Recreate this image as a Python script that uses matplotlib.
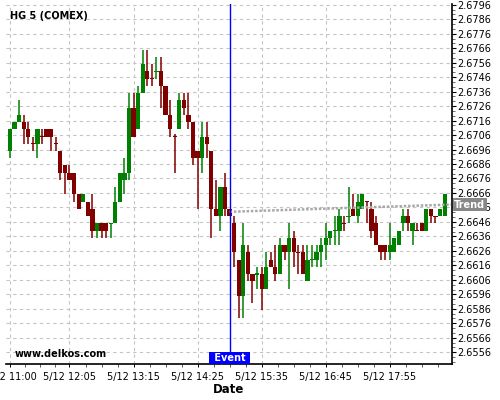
import numpy as np
import pandas as pd
import matplotlib
matplotlib.use("Agg")
import matplotlib.pyplot as plt
import matplotlib.dates as mdates
import matplotlib.transforms as mtransforms
from matplotlib.ticker import FixedLocator, AutoMinorLocator, FuncFormatter

# ---------------- data ----------------
session_date = "2025-05-12"
start_time = "11:00"
bar_minutes = 5

opens = [2.6695, 2.6710, 2.6715, 2.6715, 2.6710, 2.6700, 2.6700, 2.6705, 2.6710, 2.6710,
         2.6700, 2.6695, 2.6685, 2.6680, 2.6680, 2.6665, 2.6660, 2.6660, 2.6655, 2.6640,
         2.6645, 2.6645, 2.6645, 2.6645, 2.6660, 2.6675, 2.6680, 2.6725, 2.6710, 2.6735,
         2.6750, 2.6745, 2.6750, 2.6750, 2.6740, 2.6720, 2.6705, 2.6710, 2.6730, 2.6720,
         2.6715, 2.6695, 2.6690, 2.6705, 2.6695, 2.6655, 2.6650, 2.6670, 2.6655, 2.6645,
         2.6620, 2.6595, 2.6625, 2.6610, 2.6610, 2.6610, 2.6600, 2.6620, 2.6615, 2.6610,
         2.6630, 2.6625, 2.6635, 2.6625, 2.6625, 2.6605, 2.6620, 2.6620, 2.6625, 2.6630,
         2.6635, 2.6640, 2.6640, 2.6645, 2.6650, 2.6655, 2.6650, 2.6655, 2.6660, 2.6655,
         2.6645, 2.6630, 2.6630, 2.6625, 2.6625, 2.6630, 2.6645, 2.6650, 2.6640, 2.6640,
         2.6645, 2.6640, 2.6655, 2.6650, 2.6650, 2.6650]
highs = [2.6710, 2.6715, 2.6730, 2.6720, 2.6715, 2.6705, 2.6710, 2.6710, 2.6710, 2.6710,
         2.6705, 2.6695, 2.6685, 2.6685, 2.6680, 2.6665, 2.6665, 2.6660, 2.6665, 2.6645,
         2.6645, 2.6645, 2.6645, 2.6670, 2.6680, 2.6690, 2.6735, 2.6735, 2.6740, 2.6765,
         2.6765, 2.6755, 2.6760, 2.6760, 2.6740, 2.6730, 2.6707, 2.6735, 2.6735, 2.6735,
         2.6715, 2.6695, 2.6715, 2.6715, 2.6695, 2.6675, 2.6670, 2.6680, 2.6655, 2.6650,
         2.6620, 2.6645, 2.6630, 2.6610, 2.6615, 2.6615, 2.6625, 2.6625, 2.6630, 2.6635,
         2.6630, 2.6645, 2.6640, 2.6630, 2.6630, 2.6630, 2.6630, 2.6630, 2.6635, 2.6645,
         2.6640, 2.6650, 2.6655, 2.6650, 2.6670, 2.6665, 2.6665, 2.6665, 2.6660, 2.6660,
         2.6650, 2.6630, 2.6630, 2.6645, 2.6635, 2.6640, 2.6655, 2.6655, 2.6645, 2.6645,
         2.6645, 2.6655, 2.6655, 2.6650, 2.6655, 2.6665]
lows = [2.6690, 2.6710, 2.6715, 2.6700, 2.6700, 2.6695, 2.6690, 2.6700, 2.6705, 2.6695,
        2.6695, 2.6675, 2.6665, 2.6675, 2.6660, 2.6655, 2.6660, 2.6650, 2.6635, 2.6635,
        2.6635, 2.6635, 2.6635, 2.6645, 2.6660, 2.6665, 2.6675, 2.6705, 2.6710, 2.6735,
        2.6740, 2.6740, 2.6745, 2.6725, 2.6720, 2.6705, 2.6680, 2.6710, 2.6720, 2.6710,
        2.6685, 2.6655, 2.6680, 2.6690, 2.6635, 2.6650, 2.6640, 2.6650, 2.6650, 2.6615,
        2.6580, 2.6580, 2.6605, 2.6590, 2.6600, 2.6585, 2.6600, 2.6615, 2.6605, 2.6610,
        2.6620, 2.6600, 2.6615, 2.6610, 2.6610, 2.6605, 2.6615, 2.6615, 2.6615, 2.6620,
        2.6630, 2.6630, 2.6630, 2.6640, 2.6645, 2.6650, 2.6645, 2.6655, 2.6645, 2.6635,
        2.6630, 2.6620, 2.6620, 2.6620, 2.6625, 2.6630, 2.6640, 2.6640, 2.6630, 2.6640,
        2.6640, 2.6640, 2.6645, 2.6645, 2.6650, 2.6650]
closes = [2.6710, 2.6715, 2.6720, 2.6710, 2.6705, 2.6700, 2.6710, 2.6705, 2.6705, 2.6705,
          2.6700, 2.6680, 2.6680, 2.6675, 2.6665, 2.6655, 2.6665, 2.6650, 2.6640, 2.6645,
          2.6640, 2.6640, 2.6645, 2.6660, 2.6680, 2.6680, 2.6725, 2.6705, 2.6735, 2.6755,
          2.6745, 2.6745, 2.6750, 2.6740, 2.6720, 2.6710, 2.6705, 2.6730, 2.6725, 2.6715,
          2.6690, 2.6690, 2.6705, 2.6700, 2.6655, 2.6650, 2.6670, 2.6655, 2.6650, 2.6625,
          2.6595, 2.6630, 2.6610, 2.6605, 2.6610, 2.6600, 2.6615, 2.6615, 2.6610, 2.6630,
          2.6625, 2.6635, 2.6625, 2.6625, 2.6610, 2.6620, 2.6620, 2.6625, 2.6630, 2.6635,
          2.6640, 2.6640, 2.6650, 2.6645, 2.6650, 2.6650, 2.6660, 2.6665, 2.6660, 2.6640,
          2.6630, 2.6625, 2.6625, 2.6630, 2.6635, 2.6640, 2.6650, 2.6645, 2.6645, 2.6640,
          2.6640, 2.6655, 2.6650, 2.6650, 2.6655, 2.6665]
# unchanged (open == close) bars that are drawn in the "up" colour
doji_up = [22, 32, 54, 66, 71, 74]

title_text = "HG 5 (COMEX)"
source_text = "www.delkos.com"
event_time = "15:00"
event_label = "Event"
trend_times = ["15:00", "19:02"]
trend_values = [2.6653, 2.6658]
trend_label = "Trend"
xtick_times = ["11:00", "12:05", "13:15", "14:25", "15:35", "16:45", "17:55"]
xtick_labels = ["5/12 11:00", "5/12 12:05", "5/12 13:15", "5/12 14:25",
                "5/12 15:35", "5/12 16:45", "5/12 17:55"]
ytick_values = [2.6556, 2.6566, 2.6576, 2.6586, 2.6596, 2.6606, 2.6616, 2.6626,
                2.6636, 2.6646, 2.6656, 2.6666, 2.6676, 2.6686, 2.6696, 2.6706,
                2.6716, 2.6726, 2.6736, 2.6746, 2.6756, 2.6766, 2.6776, 2.6786, 2.6796]
y_range = (2.65479, 2.67965)
x_range = ("10:55:36", "19:02:30")
x_label = "Date"

# ---------------- styling ----------------
UP = "#008000"
DOWN = "#800000"
BLUE = "#0000ff"
GRID = "#c4c4c4"


def tnum(hhmm):
    return mdates.date2num(pd.Timestamp(f"{session_date} {hhmm}"))


fig = plt.figure(figsize=(5, 4), dpi=100)
ax = fig.add_axes([0.012, 0.09, 0.891, 0.90])

times = pd.date_range(f"{session_date} {start_time}", periods=len(opens),
                      freq=f"{bar_minutes}min")
x = mdates.date2num(times)
o = np.array(opens)
h = np.array(highs)
l = np.array(lows)
c = np.array(closes)

colors = []
for i in range(len(o)):
    if c[i] > o[i]:
        colors.append(UP)
    elif c[i] < o[i]:
        colors.append(DOWN)
    else:
        colors.append(UP if i in doji_up else DOWN)

width = bar_minutes / 1440.0 * 0.93
min_h = 0.00008
body_h = np.maximum(np.abs(c - o), min_h)
body_b = np.where(np.abs(c - o) < min_h, (o + c) / 2 - min_h / 2, np.minimum(o, c))

ax.vlines(x, l, h, colors=colors, linewidth=1.1, zorder=3)
ax.bar(x, body_h, width, bottom=body_b, color=colors, linewidth=0, zorder=4)

# trend line
ax.plot([tnum(t) for t in trend_times], trend_values, color="#a8a8a8",
        linewidth=1.8, linestyle=(0, (1, 0.7)), zorder=5, solid_capstyle="butt")

# event line
ev = tnum(event_time)
ax.axvline(ev, color=BLUE, linewidth=1.0, zorder=6)

ax.set_xlim(tnum(x_range[0]), tnum(x_range[1]))
ax.set_ylim(*y_range)

# axes styling
for side in ("left", "top"):
    ax.spines[side].set_visible(False)
for side in ("bottom", "right"):
    ax.spines[side].set_color("black")
    ax.spines[side].set_linewidth(1.2)

ax.yaxis.tick_right()
ax.yaxis.set_major_locator(FixedLocator(ytick_values))
ax.yaxis.set_major_formatter(FuncFormatter(lambda v, p: f"{v:.4f}"))
ax.yaxis.set_minor_locator(AutoMinorLocator(3))
ax.tick_params(axis="y", which="major", length=3, width=0.8, pad=1.5,
               labelsize=7, colors="black")
ax.tick_params(axis="y", which="minor", length=1.8, width=0.6, colors="#555555")

xt = [tnum(t) for t in xtick_times]
ax.xaxis.set_major_locator(FixedLocator(xt))
ax.set_xticklabels(xtick_labels)
minor = []
for a, b in zip(xt[:-1], xt[1:]):
    minor += list(np.linspace(a, b, 5)[1:-1])
step = (xt[-1] - xt[-2]) / 4
minor += [xt[-1] + step * k for k in (1, 2, 3)]
ax.xaxis.set_minor_locator(FixedLocator(minor))
ax.tick_params(axis="x", which="both", length=2.5, width=0.7, pad=3,
               labelsize=7, colors="black")
ax.tick_params(axis="x", which="minor", colors="#555555")

ax.set_xlabel(x_label, fontsize=8.5, fontweight="bold", labelpad=1)

ax.grid(True, which="major", color=GRID, linestyle=(0, (3, 3)), linewidth=0.8)
ax.set_axisbelow(True)

# texts
ax.text(0.009, 0.9675, title_text, transform=ax.transAxes, fontsize=7,
        fontweight="bold", ha="left", va="center", zorder=7)
ax.text(0.02, 0.028, source_text, transform=ax.transAxes, fontsize=7,
        fontweight="bold", ha="left", va="center", zorder=7)

trans_ev = mtransforms.blended_transform_factory(ax.transData, ax.transAxes)
ax.text(ev, 0.003, " " + event_label + " ", transform=trans_ev, fontsize=7,
        fontweight="bold", color="white", ha="center", va="bottom", zorder=8,
        bbox=dict(boxstyle="square,pad=0.12", facecolor=BLUE, edgecolor="none"))

ax.annotate(trend_label, xy=(1.0, trend_values[-1]),
            xycoords=("axes fraction", "data"), xytext=(2.0, 0),
            textcoords="offset points", fontsize=7, fontweight="bold",
            color="white", ha="left", va="center", zorder=8, annotation_clip=False,
            bbox=dict(boxstyle="square,pad=0.15", facecolor="#888888",
                      edgecolor="none"))

fig.savefig("out.png", dpi=100, facecolor="white")
